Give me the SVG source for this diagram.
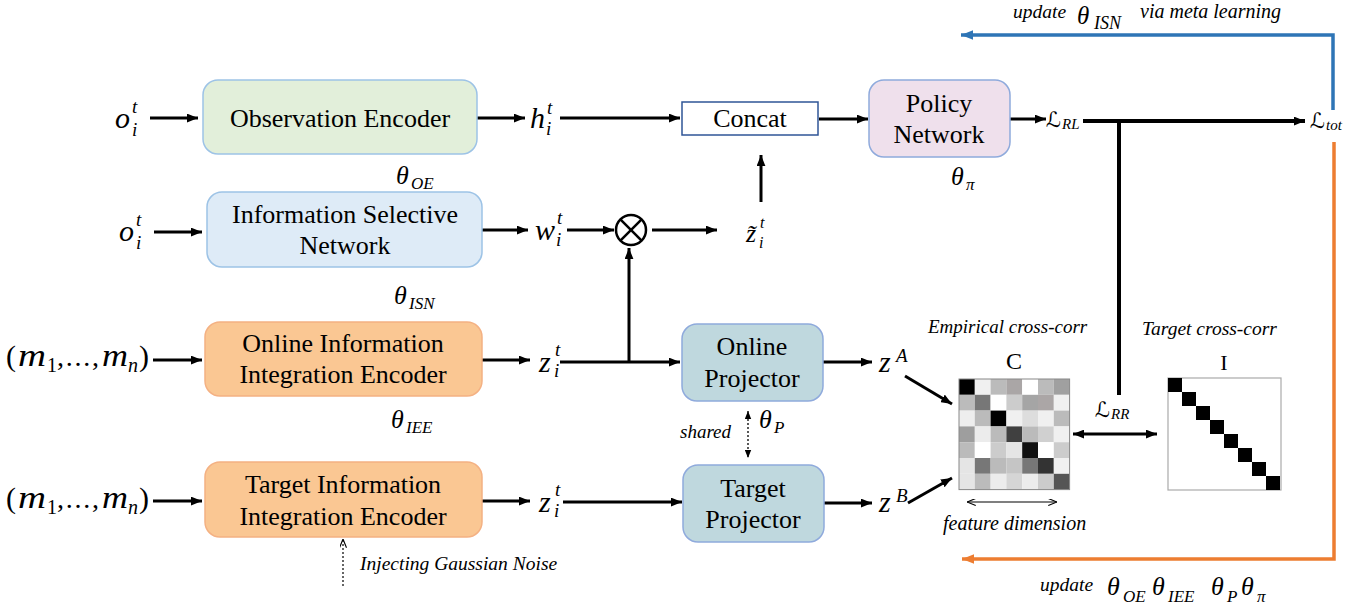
<svg xmlns="http://www.w3.org/2000/svg" width="1370" height="613" viewBox="0 0 1370 613">
<defs>
<style>
.box{font-family:"Liberation Serif",serif;font-size:26px;fill:#000;text-anchor:middle}
.m{font-family:"Liberation Serif",serif;font-style:italic;fill:#000}
.u{font-family:"Liberation Serif",serif;fill:#000}
.lab{font-family:"Liberation Serif",serif;font-style:italic;fill:#000}
.sl{font-family:"DejaVu Serif","DejaVu Sans",serif;font-style:italic;fill:#000}
.ln{stroke:#000;stroke-width:3;fill:none}
.tk{stroke:#000;stroke-width:4;fill:none}
</style>
<marker id="ah" viewBox="0 0 10 8" refX="10" refY="4" markerUnits="userSpaceOnUse" markerWidth="11" markerHeight="9" orient="auto-start-reverse"><path d="M0,0 L10,4 L0,8 z" fill="#000"/></marker>
<marker id="ahb" viewBox="0 0 10 8" refX="10" refY="4" markerUnits="userSpaceOnUse" markerWidth="12" markerHeight="10" orient="auto"><path d="M0,0 L10,4 L0,8 z" fill="#2e75b6"/></marker>
<marker id="aho" viewBox="0 0 10 8" refX="10" refY="4" markerUnits="userSpaceOnUse" markerWidth="12" markerHeight="10" orient="auto"><path d="M0,0 L10,4 L0,8 z" fill="#ed7d31"/></marker>
<marker id="ahs" viewBox="0 0 10 8" refX="10" refY="4" markerUnits="userSpaceOnUse" markerWidth="8" markerHeight="7" orient="auto-start-reverse"><path d="M0,0 L10,4 L0,8 z" fill="#000"/></marker>
<marker id="aht" viewBox="0 0 10 8" refX="10" refY="4" markerUnits="userSpaceOnUse" markerWidth="9" markerHeight="7" orient="auto-start-reverse"><path d="M0,0 L10,4 L0,8" fill="none" stroke="#000" stroke-width="1.3"/></marker>
</defs>
<rect width="1370" height="613" fill="#fff"/>

<g id="connectors">
<line class="ln" x1="150" y1="118" x2="198" y2="118" marker-end="url(#ah)"/>
<line class="ln" x1="154" y1="232" x2="202" y2="232" marker-end="url(#ah)"/>
<line class="ln" x1="153" y1="360" x2="202" y2="360" marker-end="url(#ah)"/>
<line class="ln" x1="153" y1="501" x2="202" y2="501" marker-end="url(#ah)"/>
<line class="ln" x1="477" y1="118" x2="525" y2="118" marker-end="url(#ah)"/>
<line class="ln" x1="560" y1="118" x2="680" y2="118" marker-end="url(#ah)"/>
<line class="ln" x1="819" y1="119" x2="868" y2="119" marker-end="url(#ah)"/>
<line class="ln" x1="482" y1="230" x2="528" y2="230" marker-end="url(#ah)"/>
<line class="ln" x1="567" y1="230" x2="614" y2="230" marker-end="url(#ah)"/>
<line class="ln" x1="652" y1="230" x2="717" y2="230" marker-end="url(#ah)"/>
<line class="ln" x1="761" y1="202" x2="761" y2="155" marker-end="url(#ah)"/>
<line class="ln" x1="629" y1="362" x2="629" y2="248" marker-end="url(#ah)"/>
<line class="ln" x1="482" y1="360" x2="530" y2="360" marker-end="url(#ah)"/>
<line class="ln" x1="560" y1="362" x2="680" y2="362" marker-end="url(#ah)"/>
<line class="ln" x1="482" y1="501" x2="530" y2="501" marker-end="url(#ah)"/>
<line class="ln" x1="563" y1="502" x2="682" y2="502" marker-end="url(#ah)"/>
<line class="ln" x1="823" y1="362" x2="872" y2="362" marker-end="url(#ah)"/>
<line class="ln" x1="824" y1="503" x2="872" y2="503" marker-end="url(#ah)"/>
<line class="ln" x1="905" y1="376" x2="952" y2="404" marker-end="url(#ah)"/>
<line class="ln" x1="908" y1="503" x2="952" y2="478" marker-end="url(#ah)"/>
<line class="ln" x1="1010" y1="119" x2="1046" y2="119" marker-end="url(#ah)"/>
<line class="tk" x1="1083" y1="121" x2="1305" y2="121" marker-end="url(#ah)"/>
<line class="tk" x1="1119" y1="121" x2="1119" y2="395"/>
<line class="ln" x1="1073" y1="434" x2="1157" y2="434" marker-start="url(#ah)" marker-end="url(#ah)"/>
<line x1="748" y1="411" x2="748" y2="458" stroke="#000" stroke-width="1.3" stroke-dasharray="2,2" marker-start="url(#ahs)" marker-end="url(#ahs)"/>
<line x1="343" y1="586" x2="343" y2="539" stroke="#000" stroke-width="1.2" stroke-dasharray="2,2" marker-end="url(#aht)"/>
<line x1="967" y1="502" x2="1057" y2="502" stroke="#000" stroke-width="1.2" marker-start="url(#aht)" marker-end="url(#aht)"/>
<polyline points="1333,110 1333,35 961,35" fill="none" stroke="#2e75b6" stroke-width="3.5" marker-end="url(#ahb)"/>
<polyline points="1334,142 1334,559 962,559" fill="none" stroke="#ed7d31" stroke-width="3.5" marker-end="url(#aho)"/>
</g>

<g id="obs-encoder">
<rect x="203" y="80" width="274" height="74" rx="15" fill="#e2efda" stroke="#9dc3e6" stroke-width="1.5"/>
<text class="box" x="340" y="127">Observation Encoder</text>
</g>
<g id="isn">
<rect x="207" y="192" width="275" height="75" rx="15" fill="#deebf7" stroke="#9dc3e6" stroke-width="1.5"/>
<text class="box" x="345" y="223">Information Selective</text>
<text class="box" x="345" y="254">Network</text>
</g>
<g id="online-iie">
<rect x="205" y="322" width="277" height="74" rx="15" fill="#fac793" stroke="#f4b183" stroke-width="1.5"/>
<text class="box" x="343" y="352">Online Information</text>
<text class="box" x="343" y="383">Integration Encoder</text>
</g>
<g id="target-iie">
<rect x="205" y="462" width="277" height="75" rx="15" fill="#fac793" stroke="#f4b183" stroke-width="1.5"/>
<text class="box" x="343" y="493">Target Information</text>
<text class="box" x="343" y="525">Integration Encoder</text>
</g>
<g id="concat">
<rect x="682" y="102" width="136" height="33" fill="#fff" stroke="#2f5597" stroke-width="1.5"/>
<text class="box" x="750" y="127">Concat</text>
</g>
<g id="policy">
<rect x="869" y="80" width="141" height="77" rx="15" fill="#efe0ec" stroke="#8faadc" stroke-width="1.5"/>
<text class="box" x="939" y="112">Policy</text>
<text class="box" x="939" y="143">Network</text>
</g>
<g id="online-proj">
<rect x="682" y="324" width="141" height="77" rx="15" fill="#bfd8de" stroke="#8faadc" stroke-width="1.5"/>
<text class="box" x="752" y="355">Online</text>
<text class="box" x="752" y="387">Projector</text>
</g>
<g id="target-proj">
<rect x="683" y="465" width="141" height="77" rx="15" fill="#bfd8de" stroke="#8faadc" stroke-width="1.5"/>
<text class="box" x="753" y="497">Target</text>
<text class="box" x="753" y="528">Projector</text>
</g>
<g id="otimes">
<circle cx="631" cy="230" r="15" fill="#fff" stroke="#000" stroke-width="2.5"/>
<line x1="620.4" y1="219.4" x2="641.6" y2="240.6" stroke="#000" stroke-width="2.5"/>
<line x1="641.6" y1="219.4" x2="620.4" y2="240.6" stroke="#000" stroke-width="2.5"/>
</g>

<g id="math-labels">
<text class="m" x="115" y="128" font-size="30">o</text><text class="m" x="132" y="113" font-size="19">t</text><text class="m" x="132" y="136" font-size="19">i</text>
<text class="m" x="119" y="241" font-size="30">o</text><text class="m" x="136" y="226" font-size="19">t</text><text class="m" x="136" y="249" font-size="19">i</text>
<text class="m" x="530" y="128" font-size="30">h</text><text class="m" x="547" y="114" font-size="19">t</text><text class="m" x="546" y="135" font-size="19">i</text>
<text class="m" x="535" y="240" font-size="30">w</text><text class="m" x="557" y="224" font-size="19">t</text><text class="m" x="556" y="246" font-size="19">i</text>
<text class="m" x="746" y="242" font-size="26">z&#771;</text><text class="m" x="760" y="228" font-size="16">t</text><text class="m" x="759" y="248" font-size="16">i</text>
<text class="m" x="539" y="372" font-size="30">z</text><text class="m" x="555" y="356" font-size="19">t</text><text class="m" x="554" y="377" font-size="19">i</text>
<text class="m" x="539" y="512" font-size="30">z</text><text class="m" x="555" y="496" font-size="19">t</text><text class="m" x="554" y="517" font-size="19">i</text>
<text class="m" x="879" y="372" font-size="30">z</text><text class="m" x="896" y="362" font-size="19">A</text>
<text class="m" x="879" y="512" font-size="30">z</text><text class="m" x="896" y="502" font-size="19">B</text>

<text class="u" x="6" y="366" font-size="30">(</text>
<text class="m" x="18" y="366" font-size="32" textLength="28" lengthAdjust="spacingAndGlyphs">m</text>
<text class="u" x="47" y="372" font-size="20">1</text>
<text class="u" x="57" y="366" font-size="28" textLength="42" lengthAdjust="spacing">, . . . ,</text>
<text class="m" x="102" y="366" font-size="32" textLength="26" lengthAdjust="spacingAndGlyphs">m</text>
<text class="m" x="128" y="372" font-size="20">n</text>
<text class="u" x="139" y="366" font-size="30">)</text>

<text class="u" x="6" y="508" font-size="30">(</text>
<text class="m" x="18" y="508" font-size="32" textLength="28" lengthAdjust="spacingAndGlyphs">m</text>
<text class="u" x="47" y="514" font-size="20">1</text>
<text class="u" x="57" y="508" font-size="28" textLength="42" lengthAdjust="spacing">, . . . ,</text>
<text class="m" x="102" y="508" font-size="32" textLength="26" lengthAdjust="spacingAndGlyphs">m</text>
<text class="m" x="128" y="514" font-size="20">n</text>
<text class="u" x="139" y="508" font-size="30">)</text>

<text class="m" x="396" y="184" font-size="26">θ</text><text class="m" x="411" y="189" font-size="17">OE</text>
<text class="m" x="394" y="304" font-size="26">θ</text><text class="m" x="409" y="309" font-size="17">ISN</text>
<text class="m" x="391" y="428" font-size="26">θ</text><text class="m" x="406" y="433" font-size="17">IEE</text>
<text class="m" x="951" y="185" font-size="26">θ</text><text class="m" x="966" y="190" font-size="17">π</text>
<text class="m" x="759" y="428" font-size="26">θ</text><text class="m" x="774" y="433" font-size="17">P</text>
<text class="sl" x="1046" y="127" font-size="21">ℒ</text><text class="m" x="1062" y="129" font-size="15">RL</text>
<text class="sl" x="1310" y="128" font-size="21">ℒ</text><text class="m" x="1326" y="130" font-size="15">tot</text>
<text class="sl" x="1095" y="417" font-size="21">ℒ</text><text class="m" x="1111" y="419" font-size="15">RR</text>
</g>

<g id="annotations">
<text class="lab" x="680" y="438" font-size="19">shared</text>
<text class="lab" x="360" y="570" font-size="19.5">Injecting Gaussian Noise</text>
<text class="lab" x="928" y="333" font-size="19">Empirical cross-corr</text>
<text class="lab" x="1142" y="335" font-size="19.5">Target cross-corr</text>
<text class="lab" x="943" y="530" font-size="20">feature dimension</text>
<text class="u" x="1014" y="369" font-size="24" text-anchor="middle">C</text>
<text class="u" x="1224" y="370" font-size="22" text-anchor="middle">I</text>
<text class="lab" x="1013" y="18" font-size="19.5">update</text>
<text class="m" x="1077" y="24" font-size="25">θ</text><text class="m" x="1094" y="29" font-size="18">ISN</text>
<text class="lab" x="1140" y="18" font-size="20">via meta learning</text>
<text class="lab" x="1040" y="591" font-size="19.5">update</text>
<text class="m" x="1107" y="595" font-size="26">θ</text><text class="m" x="1123" y="602" font-size="17">OE</text>
<text class="m" x="1152" y="595" font-size="26">θ</text><text class="m" x="1168" y="602" font-size="17">IEE</text>
<text class="m" x="1211" y="595" font-size="26">θ</text><text class="m" x="1227" y="602" font-size="17">P</text>
<text class="m" x="1241" y="595" font-size="26">θ</text><text class="m" x="1257" y="602" font-size="17">π</text>
</g>

<g id="matrix-C">
<g transform="translate(959,379)">
<rect x="0" y="0" width="15.8" height="15.8" fill="#000"/><rect x="15.8" y="0" width="15.8" height="15.8" fill="#f0f0f0"/><rect x="31.6" y="0" width="15.8" height="15.8" fill="#bbb"/><rect x="47.4" y="0" width="15.8" height="15.8" fill="#aaa6a6"/><rect x="63.2" y="0" width="15.8" height="15.8" fill="#fff"/><rect x="79" y="0" width="15.8" height="15.8" fill="#bbb"/><rect x="94.8" y="0" width="15.8" height="15.8" fill="#a0a0a0"/>
<rect x="0" y="15.8" width="15.8" height="15.8" fill="#bbb"/><rect x="15.8" y="15.8" width="15.8" height="15.8" fill="#777"/><rect x="31.6" y="15.8" width="15.8" height="15.8" fill="#fff"/><rect x="47.4" y="15.8" width="15.8" height="15.8" fill="#ccc"/><rect x="63.2" y="15.8" width="15.8" height="15.8" fill="#a5a5a5"/><rect x="79" y="15.8" width="15.8" height="15.8" fill="#aba6a6"/><rect x="94.8" y="15.8" width="15.8" height="15.8" fill="#f0f0f0"/>
<rect x="0" y="31.6" width="15.8" height="15.8" fill="#eee"/><rect x="15.8" y="31.6" width="15.8" height="15.8" fill="#bbb"/><rect x="31.6" y="31.6" width="15.8" height="15.8" fill="#000"/><rect x="47.4" y="31.6" width="15.8" height="15.8" fill="#f0f0f0"/><rect x="63.2" y="31.6" width="15.8" height="15.8" fill="#ddd"/><rect x="79" y="31.6" width="15.8" height="15.8" fill="#f0f0f0"/><rect x="94.8" y="31.6" width="15.8" height="15.8" fill="#bbb"/>
<rect x="0" y="47.4" width="15.8" height="15.8" fill="#9e9e9e"/><rect x="15.8" y="47.4" width="15.8" height="15.8" fill="#ececec"/><rect x="31.6" y="47.4" width="15.8" height="15.8" fill="#bbb"/><rect x="47.4" y="47.4" width="15.8" height="15.8" fill="#404040"/><rect x="63.2" y="47.4" width="15.8" height="15.8" fill="#bbb"/><rect x="79" y="47.4" width="15.8" height="15.8" fill="#d0d0d0"/><rect x="94.8" y="47.4" width="15.8" height="15.8" fill="#f0f0f0"/>
<rect x="0" y="63.2" width="15.8" height="15.8" fill="#bbb"/><rect x="15.8" y="63.2" width="15.8" height="15.8" fill="#fff"/><rect x="31.6" y="63.2" width="15.8" height="15.8" fill="#ccc"/><rect x="47.4" y="63.2" width="15.8" height="15.8" fill="#e5e5e5"/><rect x="63.2" y="63.2" width="15.8" height="15.8" fill="#111"/><rect x="79" y="63.2" width="15.8" height="15.8" fill="#fff"/><rect x="94.8" y="63.2" width="15.8" height="15.8" fill="#ccc"/>
<rect x="0" y="79" width="15.8" height="15.8" fill="#e5e5e5"/><rect x="15.8" y="79" width="15.8" height="15.8" fill="#777"/><rect x="31.6" y="79" width="15.8" height="15.8" fill="#bbb"/><rect x="47.4" y="79" width="15.8" height="15.8" fill="#c5c5c5"/><rect x="63.2" y="79" width="15.8" height="15.8" fill="#777"/><rect x="79" y="79" width="15.8" height="15.8" fill="#333"/><rect x="94.8" y="79" width="15.8" height="15.8" fill="#f0f0f0"/>
<rect x="0" y="94.8" width="15.8" height="15.8" fill="#e5e5e5"/><rect x="15.8" y="94.8" width="15.8" height="15.8" fill="#bbb"/><rect x="31.6" y="94.8" width="15.8" height="15.8" fill="#ececec"/><rect x="47.4" y="94.8" width="15.8" height="15.8" fill="#d5d5d5"/><rect x="63.2" y="94.8" width="15.8" height="15.8" fill="#ececec"/><rect x="79" y="94.8" width="15.8" height="15.8" fill="#ccc"/><rect x="94.8" y="94.8" width="15.8" height="15.8" fill="#555"/>
<rect x="0" y="0" width="110.6" height="110.6" fill="none" stroke="#888" stroke-width="1"/>
</g>
</g>

<g id="matrix-I">
<rect x="1168" y="378" width="113" height="112" fill="#fff" stroke="#aaa" stroke-width="1.2"/>
<rect x="1168" y="378" width="14" height="14" fill="#000"/>
<rect x="1182" y="392" width="14" height="14" fill="#000"/>
<rect x="1196" y="406" width="14" height="14" fill="#000"/>
<rect x="1210" y="420" width="14" height="14" fill="#000"/>
<rect x="1224" y="434" width="14" height="14" fill="#000"/>
<rect x="1238" y="448" width="14" height="14" fill="#000"/>
<rect x="1252" y="462" width="14" height="14" fill="#000"/>
<rect x="1266" y="476" width="14" height="14" fill="#000"/>
</g>
</svg>
